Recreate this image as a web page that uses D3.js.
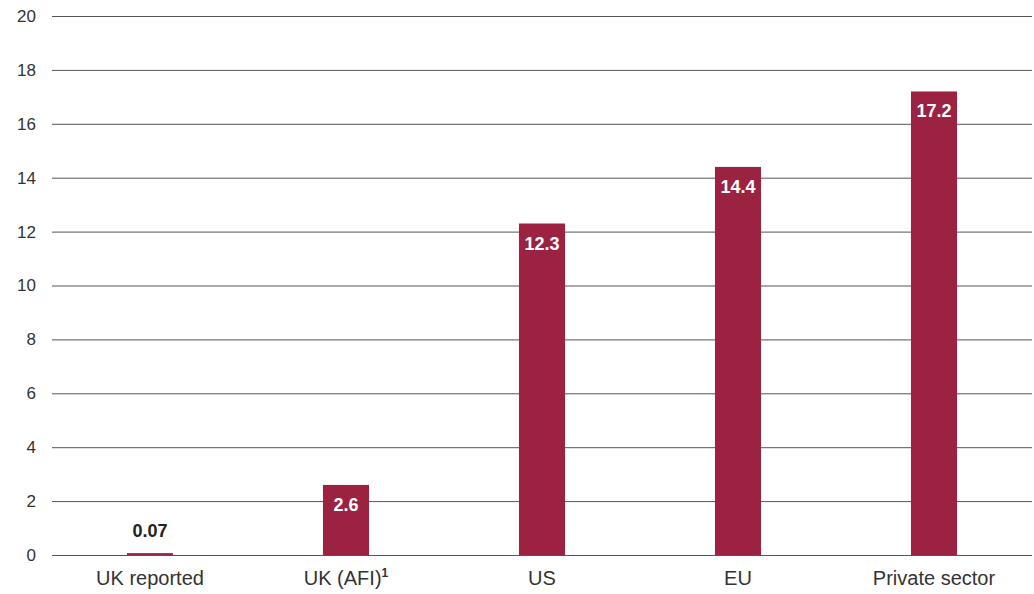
<!DOCTYPE html>
<html>
<head>
<meta charset="utf-8">
<script src="https://cdn.jsdelivr.net/npm/d3@7"></script>
<style>
  body { margin: 0; background: #fff; }
  svg text { font-family: "Liberation Sans", Arial, sans-serif; }
</style>
</head>
<body>
<div class="chart"></div>
<script>
const categories = ['UK reported', 'UK (AFI)', 'US', 'EU', 'Private sector']
const values = [0.07, 2.6, 12.3, 14.4, 17.2]
const valueLabels = ['0.07', '2.6', '12.3', '14.4', '17.2']
const yTicks = [0, 2, 4, 6, 8, 10, 12, 14, 16, 18, 20]

const width = 1034, height = 594
const margin = {top: 16, right: 2, bottom: 39, left: 52}
const innerW = width - margin.left - margin.right
const innerH = height - margin.top - margin.bottom

const svg = d3.select('.chart').append('svg').attr('width', width).attr('height', height)
const g = svg.append('g').attr('transform', `translate(${margin.left}, ${margin.top})`)

const x = d3.scaleBand().domain(categories).range([0, innerW]).paddingInner(0.765).paddingOuter(0.3825)
const y = d3.scaleLinear().domain([0, 20]).range([innerH, 0])

// gridlines + tick labels
const yAxis = g.append('g')
  .call(d3.axisLeft(y).tickValues(yTicks).tickSize(-innerW).tickPadding(16))
yAxis.select('.domain').remove()
yAxis.selectAll('.tick line').attr('stroke', '#555').attr('stroke-width', 1)
yAxis.selectAll('.tick text').attr('font-size', '17px').attr('fill', '#333')

// bars
g.selectAll('rect.bar')
  .data(values)
  .join('rect')
  .attr('class', 'bar')
  .attr('x', (d, i) => x(categories[i]))
  .attr('y', d => y(d))
  .attr('width', x.bandwidth())
  .attr('height', d => innerH - y(d))
  .attr('fill', '#9b2240')

// value labels
g.selectAll('text.val')
  .data(values)
  .join('text')
  .attr('class', 'val')
  .attr('x', (d, i) => x(categories[i]) + x.bandwidth() / 2)
  .attr('y', d => d < 1 ? y(d) - 16 : y(d) + 26)
  .attr('text-anchor', 'middle')
  .attr('font-size', '18px')
  .attr('font-weight', 'bold')
  .attr('fill', d => d < 1 ? '#222' : '#fff')
  .text((d, i) => valueLabels[i])

// category labels
const cat = g.selectAll('text.cat')
  .data(categories)
  .join('text')
  .attr('class', 'cat')
  .attr('x', d => x(d) + x.bandwidth() / 2)
  .attr('y', innerH + 30)
  .attr('text-anchor', 'middle')
  .attr('font-size', '20px')
  .attr('fill', '#333')
  .text(d => d)

cat.filter(d => d === 'UK (AFI)')
  .append('tspan')
  .attr('font-size', '12px')
  .attr('font-weight', 'bold')
  .attr('dy', -8)
  .text('1')
</script>
</body>
</html>
